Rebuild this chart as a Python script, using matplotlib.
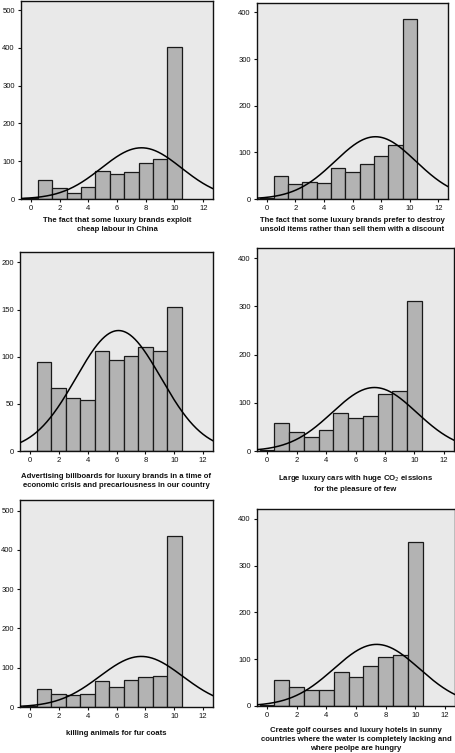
import numpy as np
import matplotlib
matplotlib.use("Agg")
import matplotlib.pyplot as plt

scores = [0, 1, 2, 3, 4, 5, 6, 7, 8, 9, 10]
xticks = [0, 2, 4, 6, 8, 10, 12]

labels = [
    "The fact that some luxury brands exploit\ncheap labour in China",
    "The fact that some luxury brands prefer to destroy\nunsold items rather than sell them with a discount",
    "Advertising billboards for luxury brands in a time of\neconomic crisis and precariousness in our country",
    "Large luxury cars with huge CO$_2$ eissions\nfor the pleasure of few",
    "killing animals for fur coats",
    "Create golf courses and luxury hotels in sunny\ncountries where the water is completely lacking and\nwhere peolpe are hungry",
]

counts_1 = [3, 51, 30, 15, 33, 74, 65, 71, 94, 106, 403]
counts_2 = [2, 49, 32, 36, 34, 66, 58, 76, 92, 115, 385]
counts_3 = [0, 94, 67, 56, 54, 106, 96, 101, 110, 106, 153]
counts_4 = [2, 59, 39, 28, 44, 78, 69, 73, 118, 125, 311]
counts_5 = [3, 47, 34, 31, 34, 65, 51, 70, 77, 80, 435]
counts_6 = [2, 56, 40, 35, 35, 72, 61, 86, 105, 108, 351]

yticks_1 = [0, 100, 200, 300, 400, 500]
yticks_2 = [0, 100, 200, 300, 400]
yticks_3 = [0, 50, 100, 150, 200]

# (counts, yticks, ymax, axes rect in px (l, t, r, b), y of first label line centre in px)
panels = [
    (counts_1, yticks_1, 524, (21, 1, 213, 199), 221),
    (counts_2, yticks_2, 420, (257, 3, 448, 199), 221),
    (counts_3, yticks_3, 211, (20, 252, 213, 451), 477),
    (counts_4, yticks_2, 421, (257, 248, 454, 451), 477),
    (counts_5, yticks_1, 527, (20, 500, 213, 707), 734),
    (counts_6, yticks_2, 421, (257, 509, 455, 706), 731),
]

W, H = 455, 753
fig = plt.figure(figsize=(W / 100, H / 100), dpi=100)
fig.patch.set_facecolor("white")
FONT = "Liberation Sans"

for i, (counts, yt, ymax, (l, t, r, b), label_y) in enumerate(panels):
    ax = fig.add_axes([l / W, 1 - b / H, (r - l) / W, (b - t) / H])
    ax.set_facecolor("#e9e9e9")
    x = np.array(scores, dtype=float)
    c = np.array(counts, dtype=float)
    ax.bar(x, c, width=1.0, color="#b3b3b3", edgecolor="#1a1a1a", linewidth=0.9, zorder=2)
    n = c.sum()
    mu = (x * c).sum() / n
    sd = np.sqrt(((x - mu) ** 2 * c).sum() / (n - 1))
    xs = np.linspace(-0.7, 12.7, 400)
    ys = n / (sd * np.sqrt(2 * np.pi)) * np.exp(-0.5 * ((xs - mu) / sd) ** 2)
    ax.plot(xs, ys, color="black", linewidth=1.1, zorder=3)
    ax.set_xlim(-0.68, 12.68)
    ax.set_ylim(0, ymax)
    ax.set_xticks(xticks)
    ax.set_yticks(yt)
    ax.tick_params(axis="both", direction="out", length=2.5, width=0.8, pad=2,
                   labelsize=5.5, colors="#111111")
    for lab in ax.get_xticklabels() + ax.get_yticklabels():
        lab.set_fontfamily(FONT)
    for s in ax.spines.values():
        s.set_color("#111111")
        s.set_linewidth(1.0)
    cx = (l + r) / 2
    fig.text(cx / W, 1 - (label_y - 4) / H, labels[i], ha="center", va="top",
             fontsize=5.55, fontfamily=FONT, fontweight="bold", linespacing=1.4,
             color="#111111")

fig.savefig("out.png", dpi=100, facecolor="white")
